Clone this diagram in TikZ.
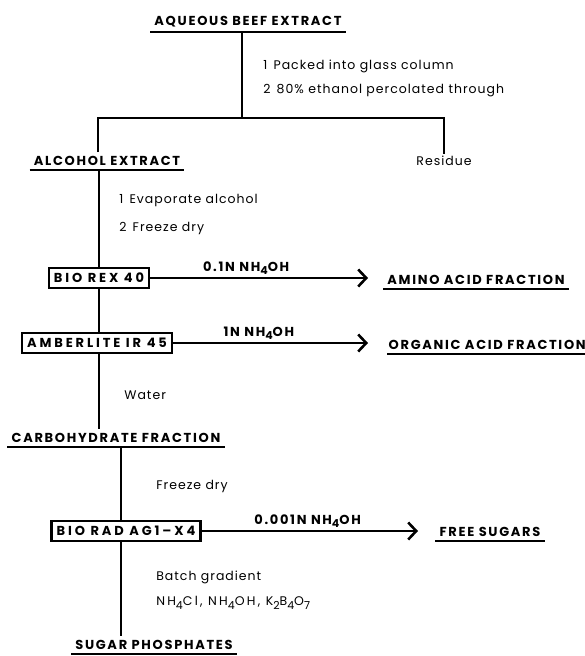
\documentclass[tikz,border=0pt]{standalone}
\usepackage{fontspec}
\setmainfont{Poppins}
\usepackage{tikz}
\usetikzlibrary{arrows.meta, positioning, calc}

\newcommand{\headfont}{\bfseries\fontsize{13}{14}\selectfont\addfontfeatures{LetterSpace=13}}
\newcommand{\boxfont}{\bfseries\fontsize{13}{14}\selectfont\addfontfeatures{LetterSpace=22}}
\newcommand{\notefont}{\fontsize{12.5}{14}\selectfont\addfontfeatures{LetterSpace=8}}
\newcommand{\chemsub}[1]{\raisebox{-0.5ex}{\fontsize{11}{12}\selectfont #1}}

\begin{document}
\begin{tikzpicture}[
    x=1pt, y=-1pt,
    line width=2.6pt,
    heading/.style={font=\headfont, inner xsep=3pt, inner ysep=3pt,
        append after command={(\tikzlastnode.south west) edge[line width=2pt] (\tikzlastnode.south east)}},
    plain/.style={font=\notefont, inner sep=1pt},
    step note/.style={font=\notefont, anchor=west, inner sep=0pt},
    column/.style={rectangle, draw, line width=2.4pt, font=\boxfont, inner xsep=5pt, inner ysep=5pt},
    reagent/.style={font=\headfont, above, inner sep=2pt},
    arrow/.style={-{Straight Barb[length=8pt, width=17pt, line width=2.6pt]}}
]
\useasboundingbox (0,0) rectangle (585,656);

% Extraction
\node[heading] (aqueous) at (248,22) {AQUEOUS BEEF EXTRACT};
\node[step note] (pack) at (262,66) {1\enspace Packed into glass column};
\node[step note] (perc) at (262,91) {2\enspace 80\% ethanol percolated through};
\coordinate (split) at (242,118);
\node[heading] (alcohol) at (107,161) {ALCOHOL EXTRACT};
\node[plain] (residue) at (444,161) {Residue};

\draw (aqueous.south -| split) -- (split);
\draw (alcohol.north -| 98,0) |- (split) -| (residue.north);

% Ion exchange
\node[step note] (evap) at (118,200) {1\enspace Evaporate alcohol};
\node[step note] (dry) at (118,228) {2\enspace Freeze dry};
\node[column] (biorex) at (99,278) {BIO REX 40};
\node[heading] (amino) at (476,280) {AMINO ACID FRACTION};
\node[column] (amberlite) at (97,343) {AMBERLITE IR 45};
\node[heading, anchor=east, inner xsep=0pt] (organic) at (587,345) {ORGANIC ACID FRACTION};
\node[step note] (water) at (123,395) {Water};
\node[heading] (carbo) at (116,438) {CARBOHYDRATE FRACTION};

\draw (alcohol.south -| biorex) -- (biorex);
\draw (biorex) -- (amberlite.north -| biorex);
\draw (amberlite.south -| biorex) -- (biorex |- carbo.north);
\draw[arrow] (biorex.east) -- node[reagent, pos=0.44] {0.1N NH\chemsub{4}OH} (biorex.east -| 368,0);
\draw[arrow] (amberlite.east) -- node[reagent, pos=0.44] {1N NH\chemsub{4}OH} (amberlite.east -| 368,0);

% Sugars
\node[step note] (dry2) at (155,486) {Freeze dry};
\node[column] (biorad) at (126,531) {BIO RAD AG1--X4};
\node[heading] (free) at (490,532) {FREE SUGARS};
\node[step note] (batch) at (155,577) {Batch gradient};
\node[step note] (salts) at (155,603) {\addfontfeatures{LetterSpace=18}NH\chemsub{4}Cl, NH\chemsub{4}OH, K\chemsub{2}B\chemsub{4}O\chemsub{7}};
\node[heading] (sugarp) at (154,645) {SUGAR PHOSPHATES};

\draw (carbo.south -| 121,0) -- (biorad.north -| 121,0);
\draw (biorad.south -| 121,0) -- (sugarp.north -| 121,0);
\draw[arrow] (biorad.east) -- node[reagent, pos=0.49] {0.001N NH\chemsub{4}OH} (biorad.east -| 418,0);

\end{tikzpicture}
\end{document}
